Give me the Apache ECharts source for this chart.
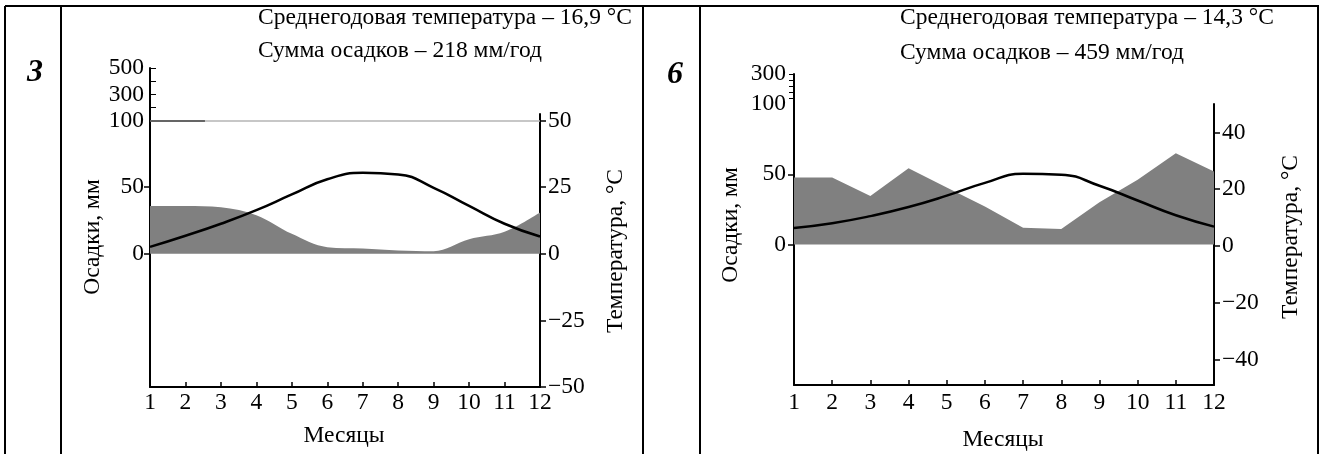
<!DOCTYPE html>
<html>
<head>
<meta charset="utf-8">
<script src="https://cdn.jsdelivr.net/npm/echarts@6/dist/echarts.min.js"></script>
<style>
html,body{margin:0;padding:0;background:#fff;}
#chart{width:1322px;height:454px;}
</style>
</head>
<body>
<div id="chart"></div>
<script>
// ---- data ----
const months = [1,2,3,4,5,6,7,8,9,10,11,12];
const precipA = [36, 36, 35, 29, 15, 5, 4, 2.5, 2, 11, 16.5, 31];
const tempA   = [2.6, 6.8, 11.3, 16.4, 22.3, 28.0, 30.4, 29.8, 24.8, 18, 11.3, 6.5];
const precipB = [47.6, 47.6, 34.5, 54.3, 40.6, 27, 12, 11, 30, 46, 65, 52];
const tempB   = [6.3, 8.0, 10.5, 13.7, 17.7, 22.2, 25.4, 25.1, 21.2, 16, 10.8, 6.8];

const tempTicksA = [-50, -25, 0, 25, 50];
const precipTicksA = [0, 50, 100];
const precipUpperTicksA = [300, 500];
const tempTicksB = [-40, -20, 0, 20, 40];
const precipTicksB = [0, 50];
const precipUpperTicksB = [100, 300];

const titleA = ['Среднегодовая температура – 16,9 °C', 'Сумма осадков – 218 мм/год'];
const titleB = ['Среднегодовая температура – 14,3 °C', 'Сумма осадков – 459 мм/год'];
const panelLabels = ['3', '6'];
const xName = 'Месяцы';
const precipName = 'Осадки, мм';
const tempName = 'Температура, °C';

// ---- chart ----
const FONT = 'Liberation Serif, Times New Roman, serif';
const FS = 23.5;
const fmt = v => (v < 0 ? '\u2212' + Math.abs(v) : String(v));
const pairs = (xs, ys) => xs.map((x, i) => [x, ys[i]]);

const lbl = extra => Object.assign({color:'#000', fontFamily:FONT, fontSize:FS, formatter:fmt}, extra);
const axisLine = {show:true, onZero:false, lineStyle:{color:'#000', width:2}};

const chart = echarts.init(document.getElementById('chart'), null, {renderer:'canvas'});

function text(t, x, y, opts) {
  opts = opts || {};
  return {
    type:'text', x:x, y:y, rotation: opts.rotation || 0, z:10,
    style:{
      text:t, fill:'#000',
      font: (opts.font || (FS + 'px ' + FONT)),
      align: opts.align || 'left', textAlign: opts.align || 'left',
      verticalAlign:'middle', textVerticalAlign:'middle'
    }
  };
}
function line(x1, y1, x2, y2) {
  return {type:'line', shape:{x1:x1, y1:y1, x2:x2, y2:y2}, style:{stroke:'#000', lineWidth:2}, z:10};
}

const xTick = {show:true, inside:true, length:5, lineStyle:{color:'#000', width:1.5}};

const option = {
  animation:false,
  backgroundColor:'#fff',
  grid:[
    {left:150, top:114, width:390, height:273},   // A main
    {left:150, top:68, width:390, height:52.7},   // A upper precip
    {left:794, top:104, width:420, height:281},   // B main
    {left:794, top:74, width:420, height:30}      // B upper precip
  ],
  xAxis:[
    {type:'value', gridIndex:0, min:1, max:12, interval:1,
     axisLine:axisLine, axisTick:xTick, axisLabel:lbl({margin:4}), splitLine:{show:false}},
    {type:'value', gridIndex:1, min:1, max:12, show:false},
    {type:'value', gridIndex:2, min:1, max:12, interval:1,
     axisLine:axisLine, axisTick:xTick, axisLabel:lbl({margin:6}), splitLine:{show:false}},
    {type:'value', gridIndex:3, min:1, max:12, show:false}
  ],
  yAxis:[
    // 0: A precip (left)
    {type:'value', gridIndex:0, position:'left', min:-100, max:105,
     axisLine:axisLine,
     axisTick:{show:true, length:6, customValues:[0,50], lineStyle:{color:'#000', width:1.5}},
     axisLabel:lbl({margin:6, customValues:precipTicksA}), splitLine:{show:false}},
    // 1: A temp (right)
    {type:'value', gridIndex:0, position:'right', min:-50, max:52.5,
     axisLine:axisLine,
     axisTick:{show:true, length:6, customValues:tempTicksA, lineStyle:{color:'#000', width:1.5}},
     axisLabel:lbl({margin:8, customValues:tempTicksA}), splitLine:{show:false}},
    // 2: A upper precip
    {type:'value', gridIndex:1, position:'left', min:100, max:500,
     axisLine:axisLine,
     axisTick:{show:true, inside:true, length:6, customValues:[200,300,400,500], lineStyle:{color:'#000', width:1}},
     axisLabel:lbl({margin:6, customValues:precipUpperTicksA}), splitLine:{show:false}},
    // 3: B precip (left)
    {type:'value', gridIndex:2, position:'left', min:-100, max:100,
     axisLine:axisLine,
     axisTick:{show:true, length:6, customValues:[0,50], lineStyle:{color:'#000', width:1.5}},
     axisLabel:lbl({margin:8, customValues:precipTicksB}), splitLine:{show:false}},
    // 4: B temp (right)
    {type:'value', gridIndex:2, position:'right', min:-49, max:50,
     axisLine:axisLine,
     axisTick:{show:true, length:6, customValues:tempTicksB, lineStyle:{color:'#000', width:1.5}},
     axisLabel:lbl({margin:8, customValues:tempTicksB}), splitLine:{show:false}},
    // 5: B upper precip
    {type:'value', gridIndex:3, position:'left', min:100, max:300,
     axisLine:axisLine,
     axisTick:{show:true, length:5, customValues:[140,180,220,260,300], lineStyle:{color:'#000', width:1}},
     axisLabel:lbl({margin:8, customValues:precipUpperTicksB}), splitLine:{show:false}}
  ],
  series:[
    {type:'line', name:'Осадки 3', xAxisIndex:0, yAxisIndex:0, data:pairs(months, precipA),
     smooth:0.35, symbol:'none', lineStyle:{width:0}, areaStyle:{color:'#808080', opacity:1}, z:2,
     markLine:{silent:true, symbol:'none', label:{show:false},
       data:[
         {yAxis:100, lineStyle:{color:'#b5b5b5', width:1.5, type:'solid'}},
         [{coord:[1,100], lineStyle:{color:'#444', width:1.5, type:'solid'}}, {coord:[2.55,100]}]
       ]}},
    {type:'line', name:'Температура 3', xAxisIndex:0, yAxisIndex:1, data:pairs(months, tempA),
     smooth:0.5, symbol:'none', lineStyle:{color:'#000', width:2.5}, z:3},
    {type:'line', name:'Осадки 6', xAxisIndex:2, yAxisIndex:3, data:pairs(months, precipB),
     smooth:false, symbol:'none', lineStyle:{width:0}, areaStyle:{color:'#808080', opacity:1}, z:2},
    {type:'line', name:'Температура 6', xAxisIndex:2, yAxisIndex:4, data:pairs(months, tempB),
     smooth:0.5, symbol:'none', lineStyle:{color:'#000', width:2.5}, z:3}
  ],
  graphic:[
    // table borders
    line(5, 6, 1319, 6),
    line(5, 6, 5, 454),
    line(61, 6, 61, 454),
    line(643, 6, 643, 454),
    line(700, 6, 700, 454),
    line(1318, 6, 1318, 454),
    // panel numbers
    text(panelLabels[0], 35, 73, {align:'center', font:'italic bold 32px ' + FONT}),
    text(panelLabels[1], 675, 75, {align:'center', font:'italic bold 32px ' + FONT}),
    // titles
    text(titleA[0], 258, 18), text(titleA[1], 258, 51),
    text(titleB[0], 900, 18), text(titleB[1], 900, 53),
    // axis names
    text(xName, 344, 436, {align:'center'}),
    text(xName, 1003, 440, {align:'center'}),
    text(precipName, 93, 237, {align:'center', rotation:Math.PI/2}),
    text(precipName, 731, 225, {align:'center', rotation:Math.PI/2}),
    text(tempName, 616, 251, {align:'center', rotation:Math.PI/2}),
    text(tempName, 1291, 237, {align:'center', rotation:Math.PI/2})
  ]
};
chart.setOption(option);
</script>
</body>
</html>
